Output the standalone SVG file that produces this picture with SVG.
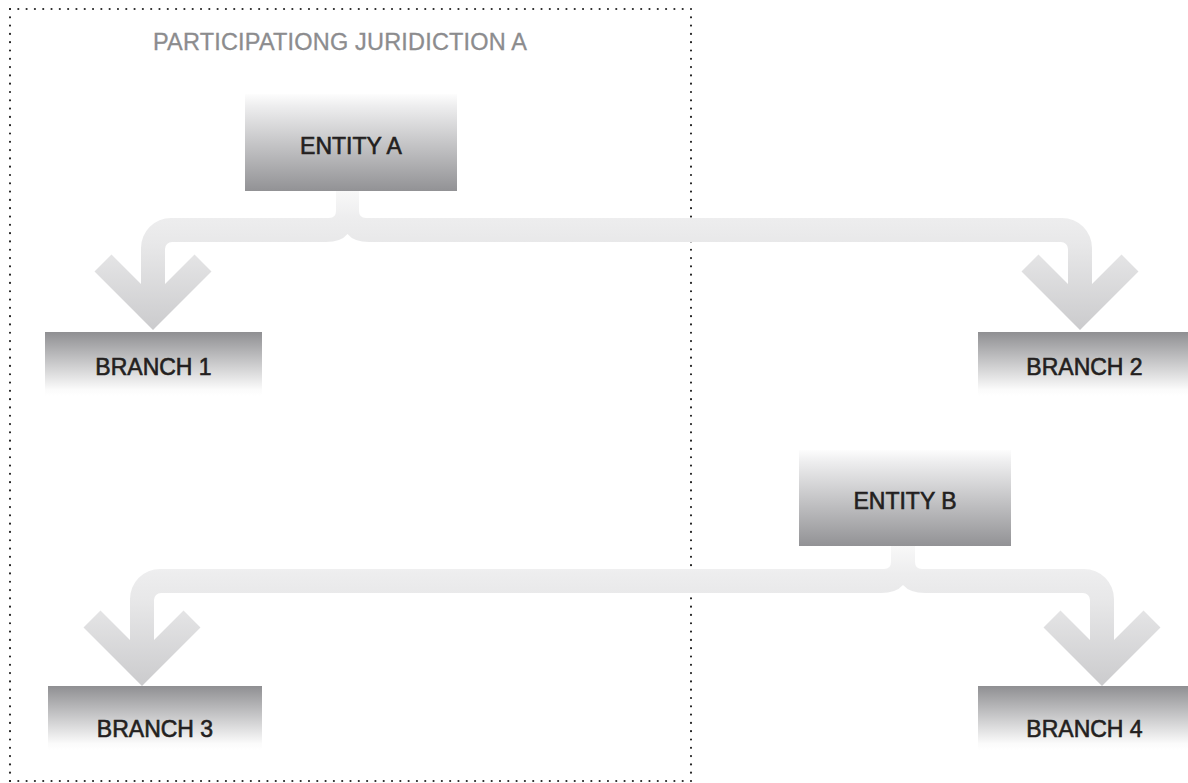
<svg xmlns="http://www.w3.org/2000/svg" width="1188" height="783" viewBox="0 0 1188 783">
  <defs>
    <!-- entity boxes: light at the top, darker grey at the bottom -->
    <linearGradient id="gEntity" x1="0" y1="0" x2="0" y2="1">
      <stop offset="0" stop-color="#fdfdfd"/>
      <stop offset="0.12" stop-color="#eeeeef"/>
      <stop offset="1" stop-color="#929295"/>
    </linearGradient>
    <!-- branch boxes: grey at the top fading to white -->
    <linearGradient id="gBranch" x1="0" y1="0" x2="0" y2="1">
      <stop offset="0" stop-color="#8f8f92"/>
      <stop offset="0.9" stop-color="#fbfbfb"/>
      <stop offset="1" stop-color="#ffffff"/>
    </linearGradient>
    <!-- connector fills, darkening towards the arrowheads -->
    <linearGradient id="gLinkA" gradientUnits="userSpaceOnUse" x1="0" y1="191" x2="0" y2="330">
      <stop offset="0" stop-color="#f8f8f8"/>
      <stop offset="0.2" stop-color="#ededee"/>
      <stop offset="0.38" stop-color="#e8e8e9"/>
      <stop offset="1" stop-color="#cbcbcd"/>
    </linearGradient>
    <linearGradient id="gLinkB" gradientUnits="userSpaceOnUse" x1="0" y1="546" x2="0" y2="686">
      <stop offset="0" stop-color="#f8f8f8"/>
      <stop offset="0.2" stop-color="#ededee"/>
      <stop offset="0.38" stop-color="#e8e8e9"/>
      <stop offset="1" stop-color="#cbcbcd"/>
    </linearGradient>
    <style>
      .label { font-family: "Liberation Sans", Arial, sans-serif; font-size: 23px; fill: #231f20; stroke: #231f20; stroke-width: 0.6; text-anchor: middle; }
      .title { font-family: "Liberation Sans", Arial, sans-serif; font-size: 23.5px; fill: #8c8c8e; stroke: #8c8c8e; stroke-width: 0.3; }
      .dots { fill: none; stroke: #262626; stroke-width: 2.2; stroke-linecap: round; }
      .chevA { fill: none; stroke: url(#gLinkA); stroke-width: 24; stroke-linejoin: miter; }
      .chevB { fill: none; stroke: url(#gLinkB); stroke-width: 24; stroke-linejoin: miter; }
    </style>
  </defs>

  <!-- jurisdiction boundary -->
  <g id="jurisdiction-a">
    <path class="dots" d="M10,9 H691" stroke-dasharray="0 8.305"/>
    <path class="dots" d="M10,781 H691" stroke-dasharray="0 8.305"/>
    <path class="dots" d="M10,9 V781" stroke-dasharray="0 8.301"/>
    <path class="dots" d="M691,9 V781" stroke-dasharray="0 8.301"/>
    <text class="title" x="153" y="49.5" textLength="374" lengthAdjust="spacing">PARTICIPATIONG JURIDICTION A</text>
  </g>

  <!-- connectors -->
  <g id="connectors">
    <!-- Entity A to Branch 1 and Branch 2 -->
    <path fill="url(#gLinkA)" d="M336,191 H359 V211 Q359,218 366,218 H1062 A30,30 0 0 1 1092,248 V312 H1068 V249 A7,7 0 0 0 1061,242 H369 Q354,242 347.5,234 Q341,242 326,242 H172 A7,7 0 0 0 165,249 V312 H141 V248 A30,30 0 0 1 171,218 H329 Q336,218 336,211 Z"/>
    <polyline class="chevA" points="103,263 153,313 203,263"/>
    <polyline class="chevA" points="1030,263 1080,313 1130,263"/>

    <!-- Entity B to Branch 3 and Branch 4 -->
    <path fill="url(#gLinkB)" d="M891,546 H915 V562 Q915,569 922,569 H1084 A30,30 0 0 1 1114,599 V668 H1090 V600 A7,7 0 0 0 1083,593 H925 Q910,593 903,585 Q896,593 881,593 H161 A7,7 0 0 0 154,600 V668 H130 V599 A30,30 0 0 1 160,569 H884 Q891,569 891,562 Z"/>
    <polyline class="chevB" points="92,619 142,669 192,619"/>
    <polyline class="chevB" points="1052,619 1102,669 1152,619"/>
  </g>

  <g id="entity-a">
    <rect x="245" y="94" width="212" height="97" fill="url(#gEntity)"/>
    <text class="label" x="351" y="154">ENTITY A</text>
  </g>

  <g id="entity-b">
    <rect x="799" y="450" width="212" height="96" fill="url(#gEntity)"/>
    <text class="label" x="905" y="509">ENTITY B</text>
  </g>

  <g id="branch-1">
    <rect x="45" y="332" width="217" height="64" fill="url(#gBranch)"/>
    <text class="label" x="153.5" y="375">BRANCH 1</text>
  </g>

  <g id="branch-2">
    <rect x="978" y="332" width="212" height="64" fill="url(#gBranch)"/>
    <text class="label" x="1084.5" y="374.5">BRANCH 2</text>
  </g>

  <g id="branch-3">
    <rect x="48" y="686" width="214" height="64" fill="url(#gBranch)"/>
    <text class="label" x="155" y="737">BRANCH 3</text>
  </g>

  <g id="branch-4">
    <rect x="978" y="686" width="212" height="64" fill="url(#gBranch)"/>
    <text class="label" x="1084.5" y="737">BRANCH 4</text>
  </g>
</svg>
